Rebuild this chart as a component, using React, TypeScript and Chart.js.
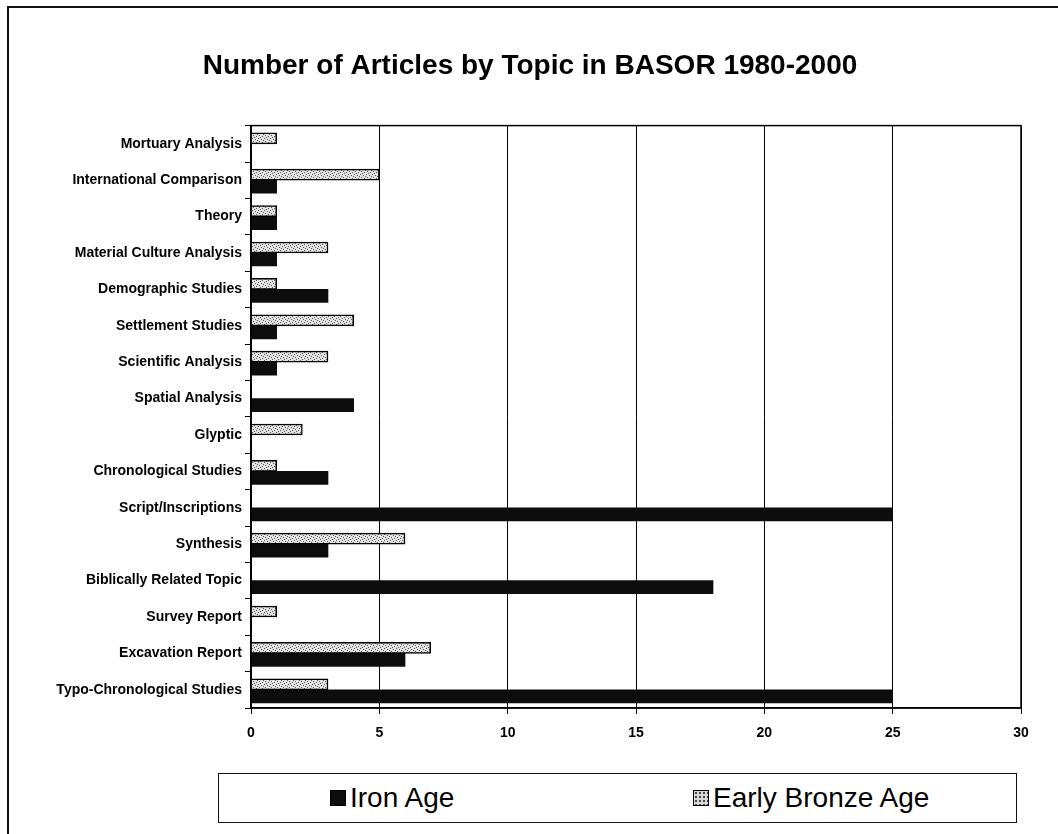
import React, { useEffect, useRef } from "react";
import { Chart, registerables } from "chart.js";

Chart.register(...registerables);

const categories = [
  "Mortuary Analysis",
  "International Comparison",
  "Theory",
  "Material Culture Analysis",
  "Demographic Studies",
  "Settlement Studies",
  "Scientific Analysis",
  "Spatial Analysis",
  "Glyptic",
  "Chronological Studies",
  "Script/Inscriptions",
  "Synthesis",
  "Biblically Related Topic",
  "Survey Report",
  "Excavation Report",
  "Typo-Chronological Studies",
];

const earlyBronzeAge = [1, 5, 1, 3, 1, 4, 3, 0, 2, 1, 0, 6, 0, 1, 7, 3];
const ironAge = [0, 1, 1, 1, 3, 1, 1, 4, 0, 3, 25, 3, 18, 0, 6, 25];

const xMin = 0;
const xMax = 30;
const xStep = 5;

const titleText = "Number of Articles by Topic in BASOR 1980-2000";
const seriesNames = ["Iron Age", "Early Bronze Age"];

const FONT = '"Liberation Sans", Arial, Helvetica, sans-serif';

function makePattern(): CanvasPattern | string {
  const c = document.createElement("canvas");
  c.width = 6;
  c.height = 6;
  const g = c.getContext("2d");
  if (!g) return "#cccccc";
  g.fillStyle = "#e2e2e2";
  g.fillRect(0, 0, 6, 6);
  g.fillStyle = "#555555";
  const dots = [
    [0, 0], [3, 1], [1, 3], [4, 4], [5, 2], [2, 5],
  ];
  dots.forEach(([x, y]) => g.fillRect(x, y, 1, 1));
  const p = g.createPattern(c, "repeat");
  return p || "#cccccc";
}

const frameBorderPlugin = {
  id: "frameBorder",
  afterDraw(chart: any) {
    const { ctx, chartArea } = chart;
    ctx.save();
    ctx.strokeStyle = "#000";
    ctx.lineWidth = 1.5;
    ctx.strokeRect(
      chartArea.left,
      chartArea.top,
      chartArea.right - chartArea.left,
      chartArea.bottom - chartArea.top
    );
    ctx.restore();
  },
};

export default function App() {
  const ref = useRef<HTMLCanvasElement | null>(null);

  useEffect(() => {
    if (!ref.current) return;
    const pattern = makePattern();
    const chart = new Chart(ref.current, {
      type: "bar",
      data: {
        labels: categories,
        datasets: [
          {
            label: seriesNames[1],
            data: earlyBronzeAge,
            backgroundColor: pattern as any,
            borderColor: "#000",
            borderWidth: 1.5,
            barThickness: 11,
          },
          {
            label: seriesNames[0],
            data: ironAge,
            backgroundColor: "#0d0d0d",
            borderColor: "#000",
            borderWidth: 0,
            barThickness: 13,
          },
        ],
      },
      options: {
        indexAxis: "y",
        animation: false,
        responsive: false,
        layout: { padding: { left: 39, right: 37, top: 0, bottom: 0 } },
        plugins: {
          legend: { display: false },
          tooltip: { enabled: false },
          title: {
            display: true,
            text: titleText,
            color: "#000",
            font: { family: FONT, size: 28, weight: "bold" },
            padding: { top: 49, bottom: 43 },
          },
        },
        scales: {
          x: {
            type: "linear",
            min: xMin,
            max: xMax,
            ticks: {
              stepSize: xStep,
              color: "#000",
              font: { family: FONT, size: 14, weight: "bold" },
              padding: 11,
            },
            grid: {
              color: "#000",
              lineWidth: 1,
              tickLength: 6,
              drawTicks: true,
            },
            border: { color: "#000", width: 1.5 },
            afterFit(scale: any) {
              scale.height = 62;
            },
          },
          y: {
            type: "category",
            ticks: {
              color: "#000",
              font: { family: FONT, size: 14, weight: "bold" },
              padding: 3,
            },
            grid: {
              drawOnChartArea: false,
              drawTicks: true,
              tickLength: 6,
              color: "#000",
            },
            border: { color: "#000", width: 1.5 },
            afterFit(scale: any) {
              scale.width = 212;
            },
          },
        },
      },
      plugins: [frameBorderPlugin],
    });
    return () => chart.destroy();
  }, []);

  const swatchBase: React.CSSProperties = {
    display: "inline-block",
    width: 16,
    height: 16,
    border: "1px solid #000",
    boxSizing: "border-box",
    marginRight: 4,
    verticalAlign: "middle",
  };

  return (
    <div
      style={{
        position: "absolute",
        left: 0,
        top: 0,
        width: 1058,
        height: 834,
        background: "#fff",
        overflow: "hidden",
        fontFamily: FONT,
      }}
    >
      <div
        style={{
          position: "absolute",
          left: 7,
          top: 6,
          width: 1100,
          height: 900,
          borderTop: "2px solid #111",
          borderLeft: "2px solid #111",
        }}
      />
      <canvas
        ref={ref}
        width={1058}
        height={770}
        style={{ position: "absolute", left: 0, top: 0, display: "block" }}
      />
      <div
        style={{
          position: "absolute",
          left: 218,
          top: 773,
          width: 799,
          height: 50,
          border: "1.5px solid #111",
          boxSizing: "border-box",
        }}
      >
        <div
          style={{
            position: "absolute",
            left: 111,
            top: 0,
            height: 47,
            display: "flex",
            alignItems: "center",
            fontSize: 28,
            color: "#000",
          }}
        >
          <span style={{ ...swatchBase, background: "#0d0d0d" }} />
          <span>{seriesNames[0]}</span>
        </div>
        <div
          style={{
            position: "absolute",
            left: 474,
            top: 0,
            height: 47,
            display: "flex",
            alignItems: "center",
            fontSize: 28,
            color: "#000",
          }}
        >
          <span
            style={{
              ...swatchBase,
              background:
                "radial-gradient(#444 35%, transparent 40%) 0 0 / 4px 4px, #d8d8d8",
            }}
          />
          <span>{seriesNames[1]}</span>
        </div>
      </div>
    </div>
  );
}
